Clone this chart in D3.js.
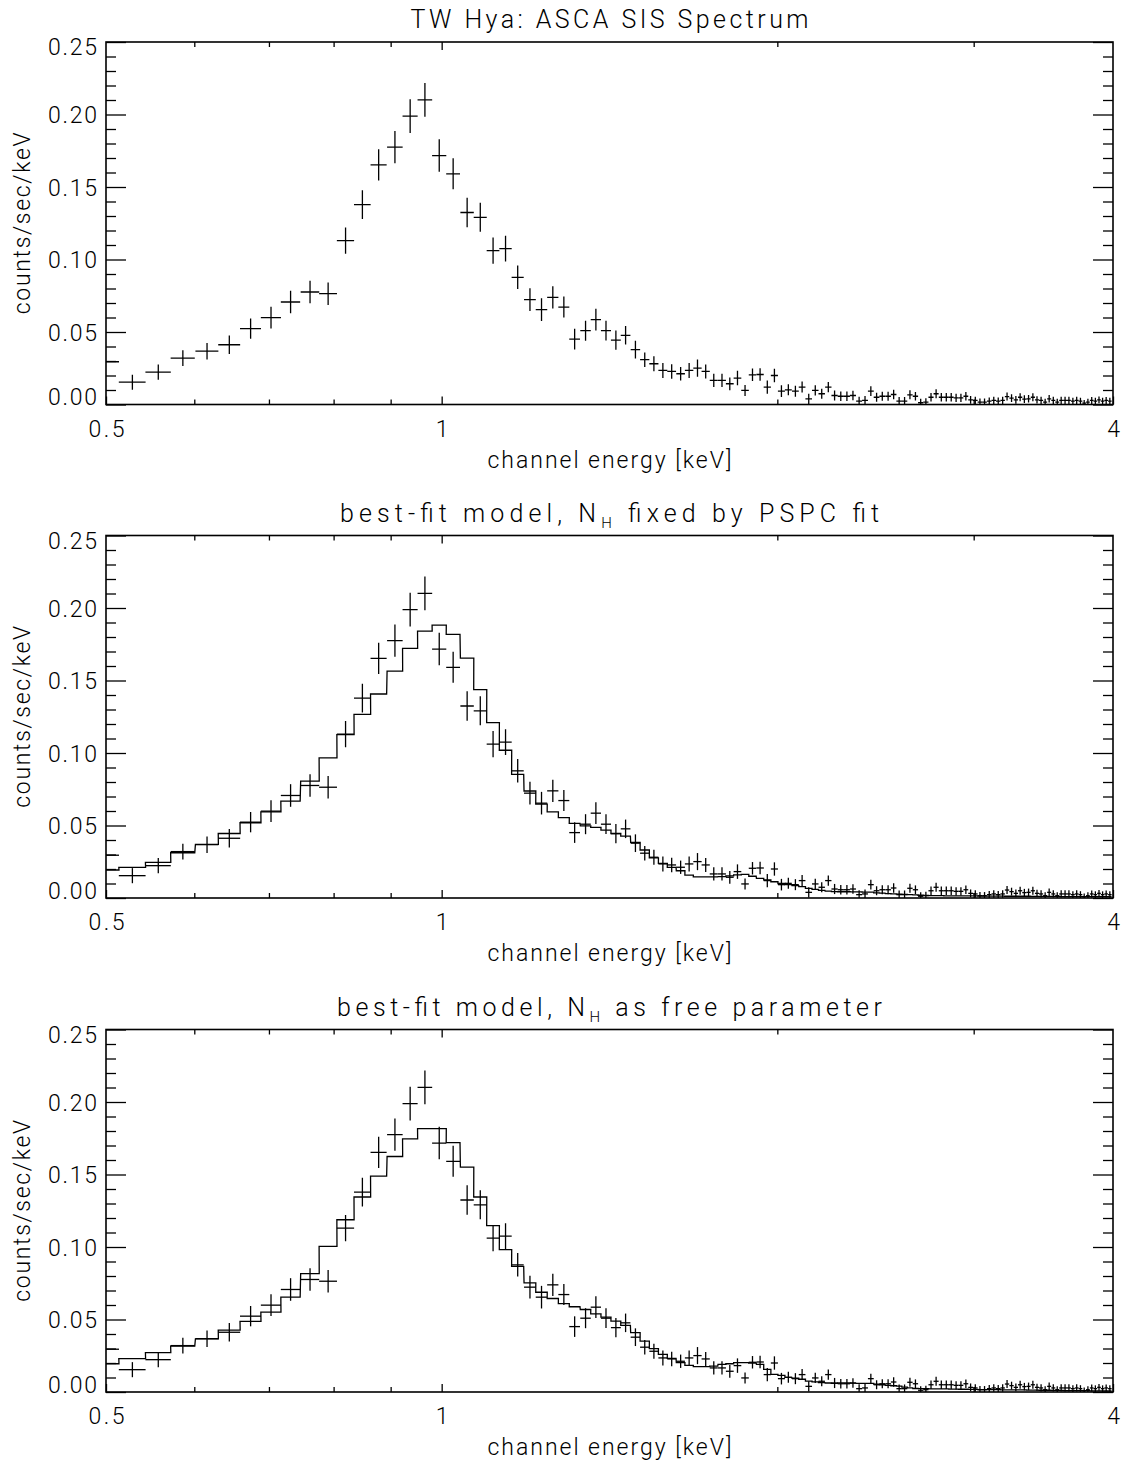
<!DOCTYPE html>
<html>
<head>
<meta charset="utf-8">
<script src="https://cdn.jsdelivr.net/npm/d3@7/dist/d3.min.js"></script>
<style>
  body { margin: 0; background: #fff; }
  svg text, svg tspan { font-family: Roboto, "DejaVu Sans", sans-serif; font-weight: 300; fill: #000; }
</style>
</head>
<body>
<svg id="chart" width="1121" height="1463"></svg>
<script>
// channel energies [keV], bin centres; first one lies just below 0.5 and is clipped
var energies = [
    0.499, 0.528, 0.557, 0.586, 0.616, 0.645, 0.674, 0.703, 0.732, 0.762,
    0.791, 0.820, 0.849, 0.878, 0.908, 0.937, 0.966, 0.995, 1.024, 1.054,
    1.083, 1.112, 1.141, 1.170, 1.200, 1.229, 1.258, 1.287, 1.316, 1.346,
    1.375, 1.404, 1.433, 1.462, 1.492, 1.521, 1.550, 1.579, 1.608, 1.638,
    1.667, 1.696, 1.725, 1.754, 1.784, 1.813, 1.842, 1.871, 1.900, 1.930,
    1.959, 1.988, 2.017, 2.046, 2.076, 2.105, 2.134, 2.163, 2.192, 2.222,
    2.251, 2.280, 2.309, 2.338, 2.368, 2.397, 2.426, 2.455, 2.484, 2.514,
    2.543, 2.572, 2.601, 2.630, 2.660, 2.689, 2.718, 2.747, 2.776, 2.806,
    2.835, 2.864, 2.893, 2.922, 2.952, 2.981, 3.010, 3.039, 3.068, 3.098,
    3.127, 3.156, 3.185, 3.214, 3.244, 3.273, 3.302, 3.331, 3.360, 3.390,
    3.419, 3.448, 3.477, 3.506, 3.536, 3.565, 3.594, 3.623, 3.652, 3.682,
    3.711, 3.740, 3.769, 3.798, 3.828, 3.857, 3.886, 3.915, 3.944, 3.974
];
var binHalfWidth = 0.0146;

// observed count rate [counts/sec/keV]
var rates = [
    0.0295, 0.0154, 0.0223, 0.0320, 0.0368, 0.0412, 0.0523, 0.0599, 0.0707, 0.0776,
    0.0764, 0.1130, 0.1379, 0.1653, 0.1775, 0.1989, 0.2101, 0.1717, 0.1591, 0.1324,
    0.1291, 0.1061, 0.1075, 0.0877, 0.0723, 0.0654, 0.0739, 0.0672, 0.0451, 0.0509,
    0.0585, 0.0509, 0.0444, 0.0477, 0.0378, 0.0309, 0.0281, 0.0235, 0.0228, 0.0212,
    0.0235, 0.0251, 0.0228, 0.0166, 0.0166, 0.0143, 0.0182, 0.0097, 0.0205, 0.0207,
    0.0120, 0.0200, 0.0092, 0.0101, 0.0092, 0.0120, 0.0039, 0.0097, 0.0074, 0.0120,
    0.0062, 0.0057, 0.0057, 0.0062, 0.0023, 0.0028, 0.0092, 0.0050, 0.0057, 0.0057,
    0.0069, 0.0023, 0.0023, 0.0067, 0.0057, 0.0012, 0.0016, 0.0050, 0.0074, 0.0050,
    0.0050, 0.0050, 0.0046, 0.0046, 0.0057, 0.0032, 0.0028, 0.0016, 0.0016, 0.0023,
    0.0028, 0.0023, 0.0028, 0.0055, 0.0044, 0.0032, 0.0050, 0.0037, 0.0039, 0.0050,
    0.0032, 0.0028, 0.0016, 0.0039, 0.0028, 0.0016, 0.0028, 0.0028, 0.0028, 0.0023,
    0.0028, 0.0023, 0.0009, 0.0016, 0.0028, 0.0023, 0.0032, 0.0023, 0.0028, 0.0023
];

// 1 sigma errors on the rate
var rateErrors = [
    0.0040, 0.0052, 0.0053, 0.0055, 0.0057, 0.0064, 0.0070, 0.0075, 0.0078, 0.0078,
    0.0078, 0.0090, 0.0099, 0.0108, 0.0112, 0.0117, 0.0117, 0.0112, 0.0107, 0.0102,
    0.0100, 0.0090, 0.0088, 0.0081, 0.0078, 0.0078, 0.0077, 0.0072, 0.0071, 0.0069,
    0.0075, 0.0068, 0.0067, 0.0064, 0.0061, 0.0050, 0.0052, 0.0052, 0.0050, 0.0046,
    0.0052, 0.0059, 0.0048, 0.0046, 0.0046, 0.0044, 0.0050, 0.0038, 0.0043, 0.0043,
    0.0046, 0.0046, 0.0040, 0.0038, 0.0038, 0.0038, 0.0035, 0.0035, 0.0035, 0.0035,
    0.0035, 0.0033, 0.0033, 0.0033, 0.0030, 0.0030, 0.0034, 0.0031, 0.0031, 0.0031,
    0.0032, 0.0029, 0.0029, 0.0031, 0.0030, 0.0027, 0.0027, 0.0030, 0.0031, 0.0029,
    0.0029, 0.0029, 0.0028, 0.0028, 0.0029, 0.0027, 0.0026, 0.0025, 0.0025, 0.0026,
    0.0026, 0.0025, 0.0026, 0.0028, 0.0027, 0.0026, 0.0027, 0.0026, 0.0026, 0.0027,
    0.0025, 0.0025, 0.0024, 0.0026, 0.0025, 0.0024, 0.0025, 0.0025, 0.0025, 0.0024,
    0.0025, 0.0024, 0.0022, 0.0023, 0.0024, 0.0023, 0.0024, 0.0023, 0.0024, 0.0023
];

// model, N_H fixed by PSPC fit
var modelFixed = [
    0.0193, 0.0211, 0.0246, 0.0312, 0.0370, 0.0445, 0.0519, 0.0594, 0.0668, 0.0806,
    0.0966, 0.1127, 0.1267, 0.1407, 0.1565, 0.1722, 0.1841, 0.1882, 0.1818, 0.1655,
    0.1437, 0.1210, 0.1019, 0.0852, 0.0738, 0.0647, 0.0594, 0.0555, 0.0514, 0.0498,
    0.0487, 0.0468, 0.0445, 0.0427, 0.0383, 0.0331, 0.0277, 0.0239, 0.0211, 0.0188,
    0.0158, 0.0146, 0.0146, 0.0146, 0.0147, 0.0152, 0.0160, 0.0163, 0.0150, 0.0135,
    0.0125, 0.0112, 0.0100, 0.0092, 0.0085, 0.0078, 0.0067, 0.0060, 0.0053, 0.0048,
    0.0044, 0.0043, 0.0043, 0.0042, 0.0042, 0.0041, 0.0040, 0.0036, 0.0033, 0.0030,
    0.0028, 0.0027, 0.0025, 0.0023, 0.0021, 0.0019, 0.0018, 0.0017, 0.0016, 0.0016,
    0.0015, 0.0015, 0.0014, 0.0014, 0.0014, 0.0014, 0.0014, 0.0013, 0.0013, 0.0013,
    0.0013, 0.0013, 0.0013, 0.0012, 0.0012, 0.0012, 0.0012, 0.0012, 0.0012, 0.0011,
    0.0011, 0.0011, 0.0011, 0.0011, 0.0011, 0.0011, 0.0010, 0.0010, 0.0010, 0.0010,
    0.0010, 0.0010, 0.0010, 0.0010, 0.0009, 0.0009, 0.0009, 0.0009, 0.0009, 0.0009
];

// model, N_H as free parameter
var modelFree = [
    0.0195, 0.0230, 0.0271, 0.0317, 0.0367, 0.0427, 0.0487, 0.0551, 0.0654, 0.0817,
    0.1005, 0.1188, 0.1345, 0.1489, 0.1624, 0.1746, 0.1817, 0.1816, 0.1720, 0.1551,
    0.1345, 0.1147, 0.0982, 0.0867, 0.0753, 0.0688, 0.0645, 0.0610, 0.0588, 0.0569,
    0.0539, 0.0516, 0.0489, 0.0459, 0.0409, 0.0351, 0.0299, 0.0259, 0.0232, 0.0202,
    0.0184, 0.0175, 0.0175, 0.0178, 0.0191, 0.0195, 0.0202, 0.0202, 0.0200, 0.0191,
    0.0156, 0.0122, 0.0115, 0.0101, 0.0095, 0.0088, 0.0075, 0.0070, 0.0065, 0.0062,
    0.0060, 0.0063, 0.0062, 0.0061, 0.0060, 0.0060, 0.0059, 0.0055, 0.0050, 0.0046,
    0.0043, 0.0040, 0.0034, 0.0028, 0.0024, 0.0023, 0.0023, 0.0022, 0.0022, 0.0021,
    0.0021, 0.0020, 0.0020, 0.0019, 0.0019, 0.0018, 0.0018, 0.0017, 0.0017, 0.0016,
    0.0016, 0.0016, 0.0015, 0.0015, 0.0015, 0.0014, 0.0014, 0.0014, 0.0013, 0.0013,
    0.0013, 0.0012, 0.0012, 0.0012, 0.0011, 0.0011, 0.0011, 0.0010, 0.0010, 0.0010,
    0.0010, 0.0009, 0.0009, 0.0009, 0.0008, 0.0008, 0.0008, 0.0008, 0.0007, 0.0007
];

var yMajorTicks = [0, 0.05, 0.10, 0.15, 0.20, 0.25];
var yMinorTicks = [0.01, 0.02, 0.03, 0.04, 0.06, 0.07, 0.08, 0.09, 0.11, 0.12, 0.13, 0.14,
    0.16, 0.17, 0.18, 0.19, 0.21, 0.22, 0.23, 0.24];
var xLabelTicks = [0.5, 1, 4];
var xMinorTicks = [0.6, 0.7, 0.8, 0.9, 2, 3];

var panels = [
    {title: ["TW Hya: ASCA SIS Spectrum", "", ""], titleWidth: 398, model: null},
    {title: ["best-fit model, N", "H", " fixed by PSPC fit"], titleWidth: 539, model: modelFixed},
    {title: ["best-fit model, N", "H", " as free parameter"], titleWidth: 545, model: modelFree}
];

var plotLeft = 106, plotRight = 1113, plotHeight = 362.5;
var panelTops = [42, 535.5, 1029.5];

var svg = d3.select("#chart");
var x = d3.scaleLog().domain([0.5, 4]).range([plotLeft, plotRight]);

var points = energies.map(function (e, i) {
    return {e: e, v: rates[i], err: rateErrors[i], i: i};
});

function styleAxis(g) {
    g.attr("font-family", null).attr("font-size", null);
    g.select(".domain").remove();
    g.selectAll("line").attr("stroke", "#000").attr("stroke-width", 1.3);
    g.selectAll("text").style("font-size", "23px");
}

panels.forEach(function (p, k) {
    var top = panelTops[k];
    var bottom = top + plotHeight;
    var y = d3.scaleLinear().domain([0, 0.25]).range([bottom, top]);
    var g = svg.append("g");

    g.append("clipPath").attr("id", "clip" + k)
        .append("rect")
        .attr("x", plotLeft).attr("y", top)
        .attr("width", plotRight - plotLeft).attr("height", plotHeight);

    // y axes, ticks pointing inward
    g.append("g").attr("transform", "translate(" + plotLeft + ",0)")
        .call(d3.axisLeft(y).tickValues(yMinorTicks).tickSize(-10).tickFormat(""))
        .call(styleAxis);
    g.append("g").attr("transform", "translate(" + plotLeft + ",0)")
        .call(d3.axisLeft(y).tickValues(yMajorTicks).tickSize(-20).tickPadding(9)
            .tickFormat(d3.format(".2f")))
        .call(styleAxis)
        .selectAll("text")
        .attr("textLength", 49)
        .attr("lengthAdjust", "spacing")
        .attr("dy", function (d) {
            if (d === 0) return "0.02em";
            if (d === 0.25) return "0.55em";
            return "0.36em";
        });
    g.append("g").attr("transform", "translate(" + plotRight + ",0)")
        .call(d3.axisRight(y).tickValues(yMinorTicks).tickSize(-10).tickFormat(""))
        .call(styleAxis);
    g.append("g").attr("transform", "translate(" + plotRight + ",0)")
        .call(d3.axisRight(y).tickValues(yMajorTicks).tickSize(-20).tickFormat(""))
        .call(styleAxis);

    // x axes
    g.append("g").attr("transform", "translate(0," + bottom + ")")
        .call(d3.axisBottom(x).tickValues(xMinorTicks).tickSize(-5).tickFormat(""))
        .call(styleAxis);
    g.append("g").attr("transform", "translate(0," + bottom + ")")
        .call(d3.axisBottom(x).tickValues(xLabelTicks).tickSize(-8).tickPadding(16)
            .tickFormat(function (d) { return String(d); }))
        .call(styleAxis)
        .selectAll("text")
        .filter(function (d) { return d === 0.5; })
        .attr("textLength", 36)
        .attr("lengthAdjust", "spacing");
    g.append("g").attr("transform", "translate(0," + top + ")")
        .call(d3.axisTop(x).tickValues(xMinorTicks).tickSize(-5).tickFormat(""))
        .call(styleAxis);
    g.append("g").attr("transform", "translate(0," + top + ")")
        .call(d3.axisTop(x).tickValues([1]).tickSize(-8).tickFormat(""))
        .call(styleAxis);

    // frame
    g.append("rect")
        .attr("x", plotLeft).attr("y", top)
        .attr("width", plotRight - plotLeft).attr("height", plotHeight)
        .attr("fill", "none").attr("stroke", "#000").attr("stroke-width", 1.6);

    var plot = g.append("g").attr("clip-path", "url(#clip" + k + ")");

    // model histogram
    if (p.model) {
        var steps = [];
        p.model.forEach(function (m, i) {
            steps.push([energies[i] - binHalfWidth, m]);
            steps.push([energies[i] + binHalfWidth, m]);
        });
        plot.append("path")
            .attr("d", d3.line()
                .x(function (d) { return x(d[0]); })
                .y(function (d) { return y(d[1]); })(steps))
            .attr("fill", "none")
            .attr("stroke", "#000")
            .attr("stroke-width", 1.3);
    }

    // data crosses
    var cross = plot.selectAll("g.pt").data(points).enter()
        .append("g").attr("class", "pt");
    cross.append("line")
        .attr("x1", function (d) { return x(d.e - binHalfWidth); })
        .attr("x2", function (d) { return x(d.e + binHalfWidth); })
        .attr("y1", function (d) { return y(d.v); })
        .attr("y2", function (d) { return y(d.v); });
    cross.append("line")
        .attr("x1", function (d) { return x(d.e); })
        .attr("x2", function (d) { return x(d.e); })
        .attr("y1", function (d) { return y(d.v - d.err); })
        .attr("y2", function (d) { return y(d.v + d.err); });
    cross.selectAll("line")
        .attr("stroke", "#000")
        .attr("stroke-width", 1.3);

    // titles and labels
    var t = g.append("text")
        .attr("x", (plotLeft + plotRight) / 2)
        .attr("y", top - 14)
        .attr("text-anchor", "middle")
        .attr("textLength", p.titleWidth)
        .attr("lengthAdjust", "spacing")
        .style("font-size", "25px");
    t.append("tspan").text(p.title[0]);
    if (p.title[1]) {
        t.append("tspan").attr("dy", 6).style("font-size", "15px").text(p.title[1]);
        t.append("tspan").attr("dy", -6).text(p.title[2]);
    }

    g.append("text")
        .attr("x", (plotLeft + plotRight) / 2)
        .attr("y", bottom + 63)
        .attr("text-anchor", "middle")
        .attr("textLength", 244)
        .attr("lengthAdjust", "spacing")
        .style("font-size", "23px")
        .text("channel energy [keV]");

    g.append("text")
        .attr("transform", "translate(30," + (top + plotHeight / 2) + ") rotate(-90)")
        .attr("text-anchor", "middle")
        .attr("textLength", 182)
        .attr("lengthAdjust", "spacing")
        .style("font-size", "23px")
        .text("counts/sec/keV");
});
</script>
</body>
</html>
